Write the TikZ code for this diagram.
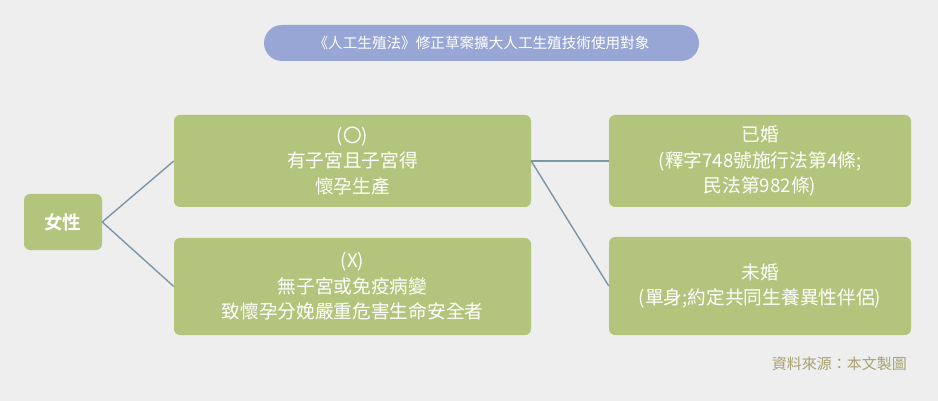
\documentclass[tikz,border=0pt]{standalone}
\usepackage{fontspec}
\setmainfont{Noto Sans CJK TC}
\newfontfamily\cjkb{Noto Sans CJK TC Bold}
\definecolor{bgc}{HTML}{EEEEEE}
\definecolor{boxg}{HTML}{B3C57D}
\definecolor{pill}{HTML}{97A6D4}
\definecolor{lnc}{HTML}{7B96A4}
\definecolor{srcc}{HTML}{A8A070}
\tikzset{
  gbox/.style={fill=boxg, rounded corners=6pt, inner sep=0pt, text=white, align=center,
    font=\fontsize{18.7}{25.5}\selectfont},
  link/.style={draw=lnc, line width=1.4pt}
}
\begin{document}
\begin{tikzpicture}[x=1pt,y=-1pt]
\fill[bgc] (0,0) rectangle (938,401);
\useasboundingbox (0,0) rectangle (938,401);
\node[fill=pill, rounded corners=18pt, minimum width=435pt, minimum height=36pt, inner sep=0pt,
  text=white, font=\fontsize{14.6}{17}\selectfont] (title) at (481.5,43) {《人工生殖法》修正草案擴大人工生殖技術使用對象};
\node[gbox, minimum width=78pt, minimum height=56pt, font=\fontsize{18.5}{22}\selectfont\cjkb] (f) at (63,222) {女性};
\node[gbox, minimum width=357pt, minimum height=92pt] (o) at (352.5,161) {(〇)\\有子宮且子宮得\\懷孕生產};
\node[gbox, minimum width=357pt, minimum height=97pt] (x) at (352.5,286.5) {(X)\\無子宮或免疫病變\\致懷孕分娩嚴重危害生命安全者};
\node[gbox, minimum width=302pt, minimum height=92pt] (m) at (760,161) {已婚\\(釋字748號施行法第4條;\\民法第982條)};
\node[gbox, minimum width=302pt, minimum height=98pt] (u) at (760,286) {未婚\\(單身;約定共同生養異性伴侶)};
\node[anchor=east, text=srcc, inner sep=0pt, font=\fontsize{15}{18}\selectfont] (src) at (907,364) {資料來源：本文製圖};
\draw[link] (f.east) -- (o.west);
\draw[link] (f.east) -- (x.west);
\draw[link] (o.east) -- (m.west);
\draw[link] (o.east) -- (u.west);
\end{tikzpicture}
\end{document}
